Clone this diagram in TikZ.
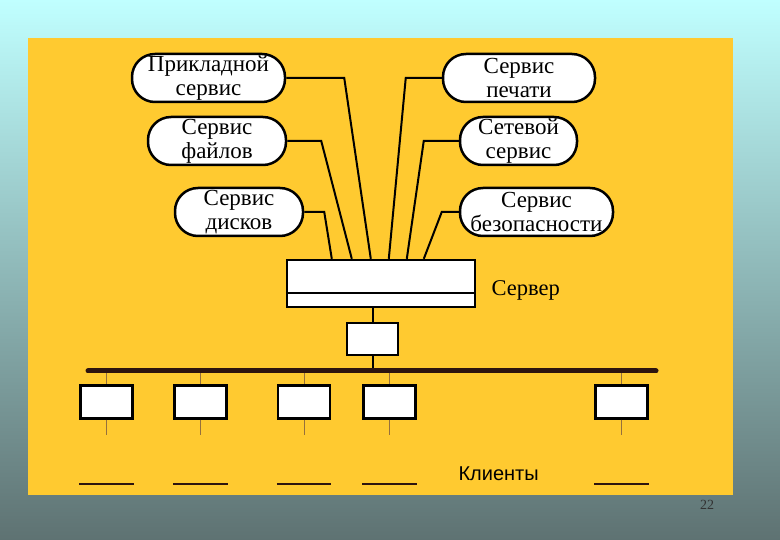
\documentclass[tikz,border=0pt]{standalone}
\usepackage{fontspec}
\setmainfont{Liberation Serif}
\newfontfamily\labelsans{Liberation Sans}
\usepackage{tikz}
\usetikzlibrary{calc}
\tikzset{every node/.append style={align=center}}
\definecolor{slidetop}{RGB}{192,255,255}
\definecolor{slidemid}{RGB}{135,172,178}
\definecolor{slidebot}{RGB}{94,114,114}
\definecolor{panelyellow}{RGB}{255,202,48}
\definecolor{wireink}{RGB}{45,20,15}
\definecolor{dropink}{RGB}{150,112,60}
\tikzset{
  service/.style={draw, line width=2.5pt, fill=white, rounded corners=23pt,
    minimum height=48pt, inner sep=0pt,
    font=\fontsize{23}{24}\selectfont},
  link/.style={line width=2pt},
  hostbox/.style={draw, line width=2.4pt, fill=white, inner sep=0pt},
  drop/.style={dropink, line width=0.9pt},
}

\begin{document}
\begin{tikzpicture}[x=1pt, y=-1pt]
  \useasboundingbox (0,0) rectangle (780,540);

  % === SLIDE ===
  \shade[top color=slidetop, middle color=slidemid, bottom color=slidebot]
    (0,0) rectangle (780,540);
  \fill[panelyellow] (28,38) rectangle (733,495);

  % === SERVICES ===
  \node[service, minimum width=153pt] (app) at (208.5,78)
    {Прикладной\\сервис};
  \node[service, minimum width=138pt] (files) at (217,141)
    {Сервис\\файлов};
  \node[service, minimum width=128pt] (disk) at (239,212)
    {Сервис\\дисков};
  \node[service, minimum width=152pt] (print) at (519,78)
    {Сервис\\печати};
  \node[service, minimum width=117pt] (net) at (518.5,141)
    {Сетевой\\сервис};
  \node[service, minimum width=153pt] (secure) at (536.5,212)
    {Сервис\\безопасности};

  % Server
  \node[hostbox, minimum width=188pt, minimum height=47pt] (server)
    at (381,283.5) {};
  \draw[link] ($(server.south west)+(0,-15)$)
    -- ($(server.south east)+(0,-15)$);
  \node[font=\fontsize{22.5}{24}\selectfont, anchor=west]
    (serverlabel) at (488,290) {Сервер};

  % Entry points on top of the server
  \coordinate (in1) at ($(server.north west)+(46,0)$);
  \coordinate (in2) at ($(server.north west)+(66,0)$);
  \coordinate (in3) at ($(server.north west)+(85,0)$);
  \coordinate (in4) at ($(server.north west)+(103,0)$);
  \coordinate (in5) at ($(server.north west)+(121,0)$);
  \coordinate (in6) at ($(server.north west)+(138,0)$);

  % Services to server
  \draw[link] (disk.east) -- ++(20,0) -- (in1);
  \draw[link] (files.east) -- ++(34,0) -- (in2);
  \draw[link] (app.east) -- ++(58,0) -- (in3);
  \draw[link] (print.west) -- ++(-36,0) -- (in4);
  \draw[link] (net.west) -- ++(-35,0) -- (in5);
  \draw[link] (secure.west) -- ++(-17,0) -- (in6);

  % === NETWORK ===
  \coordinate (busL) at (88,371);
  \coordinate (busR) at (656,371);
  \node[hostbox, minimum width=51pt, minimum height=32pt] (adapter)
    at (372.5,339) {};
  \draw[link] (adapter.north |- server.south) -- (adapter.north);
  \draw[link] (adapter.south) -- (adapter.south |- busL);

  % Clients
  \foreach \cx [count=\i] in {106.5,200.5,304,389.5,621.5} {
    \node[hostbox, minimum width=52pt, minimum height=33pt] (c\i)
      at (\cx,402) {};
    \draw[drop] (c\i.north |- busL) -- (c\i.north);
    \draw[drop] (c\i.south) -- ++(0,15);
    \draw[line width=2.4pt, wireink]
      ($(c\i.south west)+(0,64)$) -- ($(c\i.south east)+(0,64)$);
  }
  \draw[line width=5pt, wireink, line cap=round] (busL) -- (busR);

  \node[font=\labelsans\fontsize{20}{22}\selectfont, anchor=west] (clients)
    at (455,474) {Клиенты};
  \node[font=\fontsize{14}{16}\selectfont, text=black!80] (pagenum)
    at (707,505) {22};

\end{tikzpicture}
\end{document}
